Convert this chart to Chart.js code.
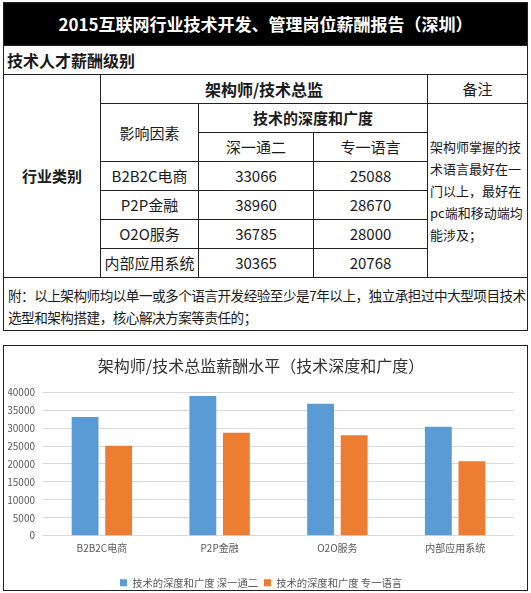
<!DOCTYPE html>
<html lang="zh-CN">
<head>
<meta charset="utf-8">
<title>2015互联网行业技术开发、管理岗位薪酬报告（深圳）</title>
<script src="https://cdn.jsdelivr.net/npm/chart.js@4.4.1/dist/chart.umd.min.js"></script>
<style>
  body { margin: 0; background: #fff; font-family: "Noto Sans CJK SC", "Noto Sans", sans-serif; color: #1a1a1a; }
  #sheet { position: absolute; left: 3px; top: 2px; width: 525px; border-collapse: collapse; table-layout: fixed; }
  #sheet td { border: 1px solid #222; padding: 0; text-align: center; font-size: 15px; line-height: 18px; }
  #sheet tr { height: 29px; }
  #sheet tr.head { height: 43px; }
  #sheet tr.head td { background: #000; color: #fff; font-weight: bold; font-size: 17px; }
  #sheet tr.foot { height: 53px; }
  .b { font-weight: bold; }
  .sub { text-align: left !important; padding-left: 3px !important; font-size: 16px !important; font-weight: bold; }
  .note { text-align: left !important; font-size: 13px !important; line-height: 22px !important; padding-left: 2px !important; }
  .foot td { text-align: left !important; vertical-align: top; white-space: nowrap; overflow: hidden; font-size: 13.6px !important; letter-spacing: -0.5px; line-height: 22px !important; padding: 6px 0 0 4px !important; }
  #box { position: absolute; left: 3px; top: 345px; width: 523px; height: 244px; border: 1px solid #222; }
</style>
</head>
<body>
<table id="sheet">
  <colgroup><col style="width:97px"><col style="width:98px"><col style="width:115px"><col style="width:114px"><col style="width:100px"></colgroup>
  <tbody id="rows">
    <tr class="head"><td colspan="5">2015互联网行业技术开发、管理岗位薪酬报告（深圳）</td></tr>
    <tr><td colspan="5" class="sub">技术人才薪酬级别</td></tr>
    <tr><td rowspan="7" class="b">行业类别</td><td colspan="3" class="b" style="font-size:16px">架构师/技术总监</td><td>备注</td></tr>
    <tr><td rowspan="2">影响因素</td><td colspan="2" class="b">技术的深度和广度</td><td rowspan="6" class="note">架构师掌握的技术语言最好在一门以上，最好在pc端和移动端均能涉及；</td></tr>
    <tr id="hdr2"></tr>
  </tbody>
</table>
<div id="box"><canvas id="myChart" width="523" height="244"></canvas></div>
<script>
const categories = ['B2B2C电商', 'P2P金融', 'O2O服务', '内部应用系统'];
const subHeaders = ['深一通二', '专一语言'];
const shenYiTongEr = [33066, 38960, 36785, 30365];
const zhuanYiYuYan = [25088, 28670, 28000, 20768];
const seriesNames = ['技术的深度和广度 深一通二', '技术的深度和广度 专一语言'];
const yTicks = [0, 5000, 10000, 15000, 20000, 25000, 30000, 35000, 40000];

const fam = '"Noto Sans CJK SC", sans-serif';

// table body from the same arrays as the chart
const hdr2 = document.getElementById('hdr2');
subHeaders.forEach(h => {
  const td = document.createElement('td');
  td.textContent = h;
  hdr2.appendChild(td);
});
const rows = document.getElementById('rows');
categories.forEach((c, i) => {
  const tr = document.createElement('tr');
  [c, shenYiTongEr[i], zhuanYiYuYan[i]].forEach(v => {
    const td = document.createElement('td');
    td.textContent = v;
    tr.appendChild(td);
  });
  rows.appendChild(tr);
});
const foot = document.createElement('tr');
foot.className = 'foot';
foot.innerHTML = '<td colspan="5">附：以上架构师均以单一或多个语言开发经验至少是7年以上，独立承担过中大型项目技术<br>选型和架构搭建，核心解决方案等责任的；</td>';
rows.appendChild(foot);

const criarGrafico = () => {
  const ctx = document.getElementById('myChart').getContext('2d');
  const myChart = new Chart(ctx, {
    type: 'bar',
    data: {
      labels: categories,
      datasets: [{
        label: seriesNames[0],
        data: shenYiTongEr,
        backgroundColor: '#5b9bd5',
        categoryPercentage: 0.57,
        barPercentage: 0.8
      }, {
        label: seriesNames[1],
        data: zhuanYiYuYan,
        backgroundColor: '#ed7d31',
        categoryPercentage: 0.57,
        barPercentage: 0.8
      }]
    },
    options: {
      responsive: false,
      animation: false,
      layout: { padding: { left: 4, right: 13, top: 0, bottom: -8 } },
      plugins: {
        title: {
          display: true,
          text: '架构师/技术总监薪酬水平（技术深度和广度）',
          color: '#333',
          font: { size: 16, family: fam, weight: 'normal' },
          padding: { top: 10, bottom: 17 }
        },
        legend: {
          position: 'bottom',
          labels: {
            boxWidth: 7,
            boxHeight: 7,
            color: '#595959',
            font: { size: 10.3, family: fam },
            padding: 6
          }
        },
        tooltip: { enabled: false }
      },
      scales: {
        x: {
          grid: { display: false, drawTicks: false },
          border: { display: false },
          afterFit: s => { s.height += 10; },
          ticks: { color: '#595959', font: { size: 10, family: fam }, padding: 7 }
        },
        y: {
          min: yTicks[0],
          max: yTicks[yTicks.length - 1],
          afterBuildTicks: s => { s.ticks = yTicks.map(v => ({ value: v })); },
          afterFit: s => { s.width = 35; },
          grid: { color: '#d9d9d9', drawTicks: false },
          border: { display: false },
          ticks: { color: '#595959', font: { size: 10, family: fam }, padding: 8, callback: v => String(v) }
        }
      }
    }
  });
}

criarGrafico()
</script>
</body>
</html>
